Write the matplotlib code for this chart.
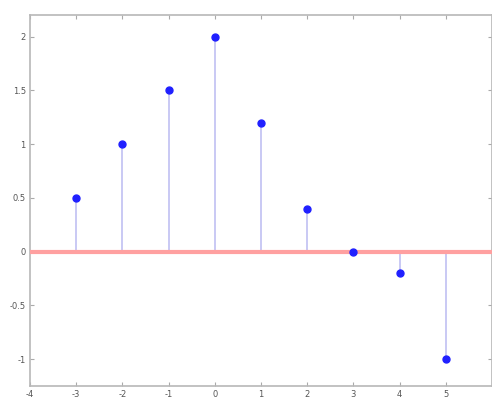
import matplotlib
matplotlib.use("Agg")
import matplotlib.pyplot as plt

x_vals = [-3, -2, -1, 0, 1, 2, 3, 4, 5]
y_vals = [0.5, 1.0, 1.5, 2.0, 1.2, 0.4, 0.0, -0.2, -1.0]
x_ticks = [-4, -3, -2, -1, 0, 1, 2, 3, 4, 5, 6]
x_tick_labels = ["-4", "-3", "-2", "-1", "0", "1", "2", "3", "4", "5", ""]
y_ticks = [-1, -0.5, 0, 0.5, 1, 1.5, 2]
y_tick_labels = ["-1", "-0.5", "0", "0.5", "1", "1.5", "2"]

fig = plt.figure(figsize=(4.92, 4.01), dpi=100)
ax = fig.add_axes([30/492, 15/401, 462/492, 371/401])

ax.vlines(x_vals, 0, y_vals, colors="#c0c0f2", linewidth=1.2, zorder=2)
ax.axhline(0, color="#ffa0a0", linewidth=3.0, zorder=3)
ax.plot(x_vals, y_vals, linestyle="none", marker="o", markersize=5,
        color="#2020ff", markeredgecolor="#2020ff", zorder=4)

ax.set_xlim(-4, 6)
ax.set_ylim(-1.25, 2.2)
ax.set_xticks(x_ticks)
ax.set_xticklabels(x_tick_labels)
ax.set_yticks(y_ticks)
ax.set_yticklabels(y_tick_labels)
ax.tick_params(direction="in", length=3, width=0.8, color="#aaaaaa",
               labelsize=6, labelcolor="#555555", top=True, right=True, pad=3)
for s in ax.spines.values():
    s.set_color("#b8b8b8")
    s.set_linewidth(1.2)

fig.savefig("out.png", dpi=100)
